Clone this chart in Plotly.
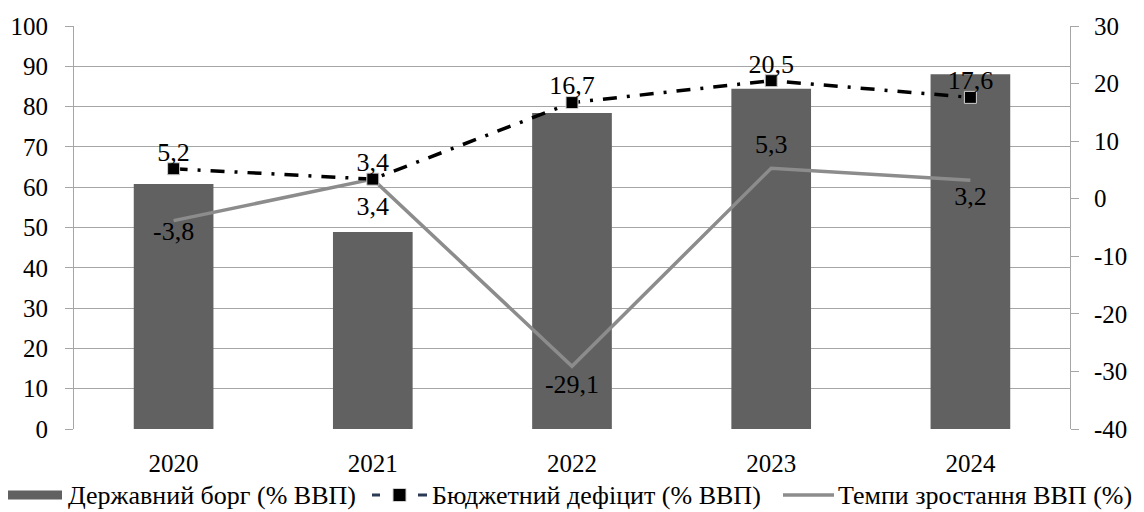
import plotly.graph_objects as go

years = ["2020", "2021", "2022", "2023", "2024"]
debt = [60.8, 48.9, 78.4, 84.4, 88.0]
deficit = [5.2, 3.4, 16.7, 20.5, 17.6]
growth = [-3.8, 3.4, -29.1, 5.3, 3.2]
right_tick_vals = [-40, -30, -20, -10, 0, 10, 20, 30]
right_tick_text = ["-40", "-30", "-20", "-10", "0", "10", "20", "30"]
deficit_pos = ["top center"] * 5
growth_pos = ["bottom center", "bottom center", "bottom center", "top center", "bottom center"]
names = ["Державний борг (% ВВП)", "Бюджетний дефіцит (% ВВП)", "Темпи зростання ВВП (%)"]

def fmt(v):
    return f"{v:.1f}".replace(".", ",")

FONT = "Liberation Serif, Times New Roman, serif"
TF = dict(family=FONT, size=25, color="black")
LF = dict(family=FONT, size=26, color="black")

W, H = 1144, 512
L, R, T, B = 74, 74, 26, 83
PW, PH = W - L - R, H - T - B

def px(x):
    return (x - L) / PW

def py(y):
    return (H - B - y) / PH

BAR_COLOR = "#616161"
GROWTH_COLOR = "#8c8c8c"
HIDDEN = dict(color="rgba(0,0,0,0)", opacity=0, line=dict(width=0))

fig = go.Figure()
fig.add_trace(go.Bar(
    x=years, y=debt, name=names[0],
    marker=dict(color=BAR_COLOR, line=dict(width=0)),
    width=0.4, yaxis="y",
))
fig.add_trace(go.Scatter(
    x=years, y=growth, name=names[2], yaxis="y2",
    mode="lines", line=dict(color=GROWTH_COLOR, width=3.5),
))
fig.add_trace(go.Scatter(
    x=years, y=deficit, name=names[1], yaxis="y2",
    mode="lines+markers",
    line=dict(color="black", width=3.5, dash="14px,10px,3px,10px"),
    marker=dict(symbol="square", size=12, color="black", line=dict(color="#d0d0d0", width=1)),
))
# data labels
fig.add_trace(go.Scatter(
    x=years, y=deficit, yaxis="y2", mode="markers+text",
    marker=dict(size=1, **HIDDEN),
    text=[fmt(v) for v in deficit], textposition=deficit_pos,
    textfont=LF, hoverinfo="skip",
))
fig.add_trace(go.Scatter(
    x=years, y=growth, yaxis="y2", mode="markers+text",
    marker=dict(size=[0, 24, 10, 12, 6], **HIDDEN),
    text=[fmt(v) for v in growth], textposition=growth_pos,
    textfont=LF, hoverinfo="skip",
))

# custom legend
LY = 495
shapes = [
    dict(type="rect", xref="paper", yref="paper", x0=px(8), x1=px(62), y0=py(499.5), y1=py(490.5),
         fillcolor=BAR_COLOR, line=dict(width=0)),
    dict(type="line", xref="paper", yref="paper", x0=px(372), x1=px(380), y0=py(LY), y1=py(LY),
         line=dict(color="#2b3a55", width=3)),
    dict(type="rect", xref="paper", yref="paper", x0=px(393), x1=px(406), y0=py(LY + 6.5), y1=py(LY - 6.5),
         fillcolor="black", line=dict(color="#d0d0d0", width=1)),
    dict(type="line", xref="paper", yref="paper", x0=px(418), x1=px(427), y0=py(LY), y1=py(LY),
         line=dict(color="#2b3a55", width=3)),
    dict(type="line", xref="paper", yref="paper", x0=px(783), x1=px(834), y0=py(LY), y1=py(LY),
         line=dict(color=GROWTH_COLOR, width=3.5)),
]
annotations = [
    dict(text=names[0], x=px(66), y=py(LY + 1), xref="paper", yref="paper", xanchor="left", yanchor="middle",
         showarrow=False, font=LF),
    dict(text=names[1], x=px(430), y=py(LY + 1), xref="paper", yref="paper", xanchor="left", yanchor="middle",
         showarrow=False, font=LF),
    dict(text=names[2], x=px(836), y=py(LY + 1), xref="paper", yref="paper", xanchor="left", yanchor="middle",
         showarrow=False, font=LF),
]

fig.update_layout(
    width=W, height=H,
    margin=dict(l=L, r=R, t=T, b=B, autoexpand=False),
    plot_bgcolor="white", paper_bgcolor="white",
    font=dict(family=FONT, size=25, color="black"),
    showlegend=False,
    shapes=shapes, annotations=annotations,
    xaxis=dict(showgrid=False, showline=False, ticks="", ticklabelstandoff=17,
               tickfont=TF),
    yaxis=dict(range=[0, 100], dtick=10, showgrid=True, gridcolor="#a6a6a6", gridwidth=1,
               showline=True, linecolor="#a6a6a6", ticks="outside", ticklen=8,
               tickcolor="#a6a6a6", zeroline=False, tickfont=TF, ticklabelstandoff=12),
    yaxis2=dict(range=[-40, 30], tickmode="array", tickvals=right_tick_vals, ticktext=right_tick_text,
                overlaying="y", side="right", showgrid=False,
                showline=True, linecolor="#a6a6a6", ticks="outside", ticklen=8,
                tickcolor="#a6a6a6", zeroline=False, tickfont=TF, ticklabelstandoff=10),
    bargap=0.6,
)

fig.write_html("out.html")
